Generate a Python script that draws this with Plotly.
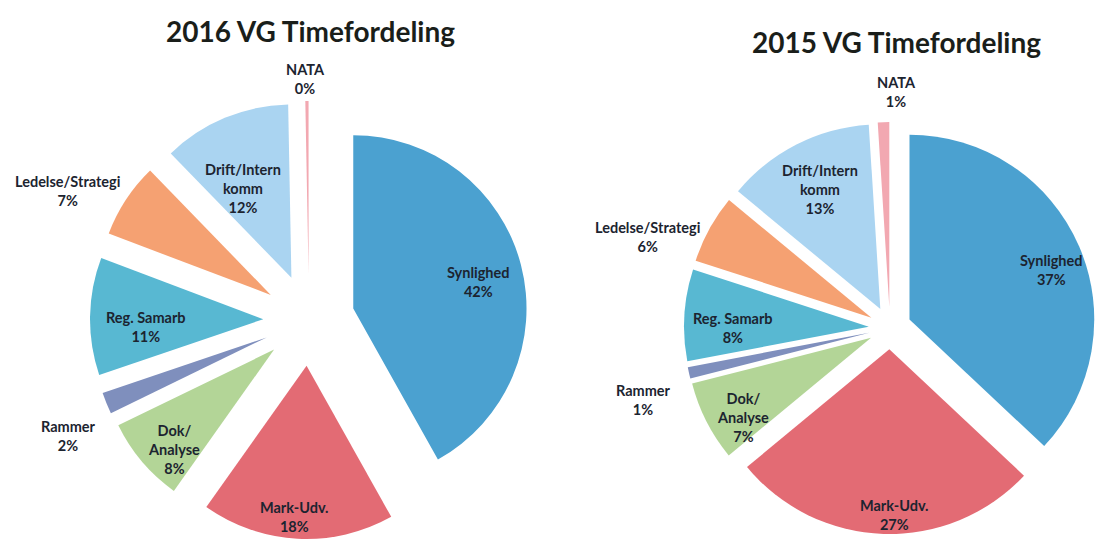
import math
import plotly.graph_objects as go

# ---- data ----
labels = ["Synlighed", "Mark-Udv.", "Dok/<br>Analyse", "Rammer", "Reg. Samarb",
          "Ledelse/Strategi", "Drift/Intern<br>komm", "NATA"]
values_2016 = [42, 18, 8, 2, 11, 7, 12, 0.3]
values_2015 = [37, 27, 7, 1, 8, 6, 13, 1]
titles = ["2016 VG Timefordeling", "2015 VG Timefordeling"]

# ---- style ----
W, H = 1096, 539
colors = ["#4ba1d0", "#e36b74", "#b3d597", "#7f8fbd", "#58b8d2",
          "#f5a172", "#aad4f1", "#f2a8b1"]
FONT = "Lato"
TXT = "#1c2430"
FS = 14.5

# pie geometry in pixels: centre, half-size of box (x, y), pull fraction
geom = [
    dict(cx=309, cy=320, hx=219, hy=219, pull=0.264, title_xy=(310, 31)),
    dict(cx=890, cy=328, hx=206, hy=211, pull=0.115, title_xy=(896, 42)),
]
# label placement: radial distance (in radii from centre) and angle offset (deg)
label_k = [
    [1.00, 1.14, 1.08, 1.54, 0.94, 1.58, 0.85, 1.39],
    [0.93, 1.01, 0.93, 1.39, 0.85, 1.40, 0.84, 1.28],
]
label_dang = [
    [2.0, 1.3, -3.7, -3.5, -3.6, -5.1, -4.1, -0.4],
    [3.7, -3.3, -4.3, -3.6, -3.6, -8.3, 0.3, 3.4],
]

fig = go.Figure()

for values, g, ks, das, title in zip([values_2016, values_2015], geom, label_k, label_dang, titles):
    dom_x = [max(0.0, (g["cx"] - g["hx"]) / W), min(1.0, (g["cx"] + g["hx"]) / W)]
    dom_y = [max(0.0, 1 - (g["cy"] + g["hy"]) / H), min(1.0, 1 - (g["cy"] - g["hy"]) / H)]
    fig.add_trace(go.Pie(
        labels=labels, values=values,
        sort=False, direction="clockwise", rotation=0,
        pull=[g["pull"]] * len(values),
        marker=dict(colors=colors, line=dict(width=0)),
        textinfo="none", automargin=False,
        domain=dict(x=dom_x, y=dom_y),
        showlegend=False, hoverinfo="label+percent",
    ))

    # slice labels placed along each slice's mid-angle
    r = min(g["hx"], g["hy"]) / (1 + g["pull"])
    total = sum(values)
    cum = 0.0
    for lab, v, k, da in zip(labels, values, ks, das):
        mid = (cum + v / 2) / total * 360.0
        cum += v
        th = math.radians(mid + da)
        px = g["cx"] + k * r * math.sin(th)
        py = g["cy"] - k * r * math.cos(th)
        fig.add_annotation(
            text=f"{lab}<br>{round(v / total * 100)}%",
            x=px / W, y=1 - py / H, xref="paper", yref="paper",
            xanchor="center", yanchor="middle", align="center", showarrow=False,
            font=dict(family=FONT, size=FS, color=TXT, weight="bold"),
        )

    tx, ty = g["title_xy"]
    fig.add_annotation(text=title, x=tx / W, y=1 - ty / H, xref="paper", yref="paper",
                       xanchor="center", yanchor="middle", showarrow=False,
                       font=dict(family=FONT, size=28, color="#1a1e1a", weight="bold"))

fig.update_layout(
    width=W, height=H,
    margin=dict(l=0, r=0, t=0, b=0, pad=0, autoexpand=False),
    paper_bgcolor="white", plot_bgcolor="white",
)

fig.write_html("out.html",
               config={"displayModeBar": False},
               post_script="document.body.style.margin='0px';document.body.style.overflow='hidden';")
